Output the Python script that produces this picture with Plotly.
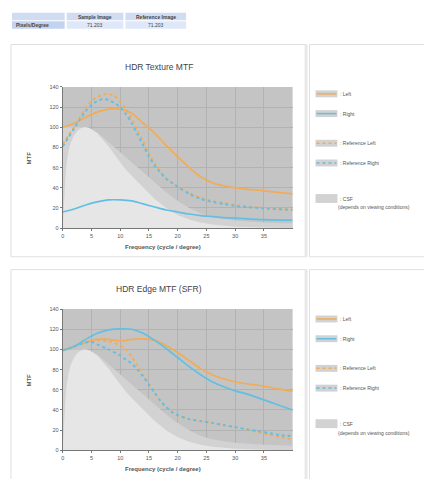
import plotly.graph_objects as go

W, H = 424, 479

# ---------------- data ----------------
table_cols = ["", "Sample Image", "Reference Image"]
table_row = ["Pixels/Degree", "71.203", "71.203"]

csf_x = [0, 0.15, 0.3, 0.5, 0.7, 1.0, 1.4, 2, 2.5, 3, 3.5, 4, 4.5, 5, 6, 7, 8, 9, 10, 11, 12, 13, 14, 15, 16, 17, 18, 19, 20, 22, 24, 26, 28, 30, 35, 40]
csf_y = [0, 20, 38, 53, 65, 76, 85, 92, 96, 98.5, 99.7, 100, 99.5, 98, 94, 88, 81, 73, 65, 58, 52, 46, 40, 34.5, 29, 24.5, 20, 16.5, 13, 8.5, 5.5, 3.5, 2.2, 1.5, 0.6, 0.2]
env_x = [0, 2, 4, 5, 6, 7, 8, 9, 10, 11, 12, 13, 14, 15, 16, 17, 18, 19, 20, 21, 22, 23, 24, 25, 26, 28, 30, 35, 40]
env_y = [100, 100, 100, 98, 95, 90, 85, 80, 75, 70, 65, 60, 55, 50, 45, 40, 35.5, 31, 27, 23.5, 20, 17, 14.5, 12.5, 11, 9, 7.5, 5.5, 4.5]

tex_x = [0, 2, 4, 6, 8, 10, 12, 14, 16, 18, 20, 22, 24, 26, 28, 30, 35, 40]
tex_left = [100, 104, 110, 115, 118, 118, 114, 104, 94, 82, 71, 60, 51, 45, 42, 40, 37, 34]
tex_right = [16, 19, 23, 26, 28, 28, 27, 24, 21, 18, 16, 14, 12.5, 11.5, 10.5, 10, 8.5, 8]
ref_x = [0, 1, 2, 3, 4, 5, 6, 7, 8, 9, 10, 11, 12, 13, 14, 15, 16, 17, 18, 19, 20, 22, 24, 26, 28, 30, 32, 35, 40]
tex_ref_left = [83, 92, 100, 110, 119, 126, 130, 132.5, 133, 131, 125, 118, 108, 97, 86, 74, 64, 56, 49, 45, 41, 35, 30, 27, 25, 23, 21.5, 20, 18.5]
tex_ref_right = [81, 90, 99, 108, 116, 122, 126, 128, 127, 124, 120, 113, 104, 93, 82, 71, 62, 55, 49, 45, 41, 34, 29, 26, 24, 22, 21, 19.5, 18]

edge_x = [0, 2, 4, 6, 8, 10, 12, 14, 16, 18, 20, 22, 24, 26, 28, 30, 32, 34, 36, 38, 40]
edge_left = [99, 103, 107, 110, 110, 108.5, 110, 110.5, 109, 104, 97, 89, 81, 75, 71, 68, 66, 64.5, 62.5, 60.5, 58.5]
edge_right = [99, 103, 110, 116, 119.5, 120.5, 120, 116, 109, 101, 92, 83, 75, 68, 63, 59, 56, 52, 48, 44, 40]
eref_x = [0, 2, 4, 5, 6, 8, 10, 11, 12, 13, 14, 15, 16, 17, 18, 19, 20, 22, 24, 26, 28, 30, 32, 34, 36, 38, 40]
edge_ref_left = [99, 103, 107, 108.5, 109, 108, 104, 100, 93, 84, 75, 66, 57, 49, 43, 38.5, 35, 31, 29, 27.5, 25, 23, 20.5, 18, 15.5, 13, 11]
edge_ref_right = [99, 103, 107, 107.5, 105, 100, 94, 90, 86, 80, 73, 65, 57, 49, 43, 38, 35, 31, 29, 27, 25, 23, 21, 19, 17, 15, 14]

x_ticks = [0, 5, 10, 15, 20, 25, 30, 35]
y_ticks = [0, 20, 40, 60, 80, 100, 120, 140]

titles = ["HDR Texture MTF", "HDR Edge MTF (SFR)"]
legend_labels = [": Left", ": Right", ": Reference Left", ": Reference Right", ": CSF"]
legend_note = "(depends on viewing conditions)"

# ---------------- styles ----------------
ORANGE = "#f2ac55"
BLUE = "#62bfe3"
BG_DARK = "#c4c4c4"
BG_MID = "#d2d2d2"
BG_LIGHT = "#e6e6e6"
GRID = "#b2b2b2"
FONT = "Liberation Sans"


def px(x):
    return x / W


def py(y):
    return 1 - y / H


def note(text, x, y, size, color="#555555", xanchor="center", angle=0):
    return dict(text=text, x=px(x), y=py(y), xref="paper", yref="paper", showarrow=False,
                xanchor=xanchor, yanchor="middle", textangle=angle,
                font=dict(family=FONT, size=size, color=color))


fig = go.Figure()

charts = [
    dict(top=85, bottom=228, panel=(42, 257),
         series=[(tex_x, tex_left, ORANGE, "solid"), (tex_x, tex_right, BLUE, "solid"),
                 (ref_x, tex_ref_left, ORANGE, "dot"), (ref_x, tex_ref_right, BLUE, "dot")]),
    dict(top=310, bottom=453, panel=(270, 490),
         series=[(edge_x, edge_left, ORANGE, "solid"), (edge_x, edge_right, BLUE, "solid"),
                 (eref_x, edge_ref_left, ORANGE, "dot"), (eref_x, edge_ref_right, BLUE, "dot")]),
]

panel_shapes = []
shapes = []
annotations = []

for i, ch in enumerate(charts):
    xa = "x" if i == 0 else "x2"
    ya = "y" if i == 0 else "y2"
    fig.add_trace(go.Scatter(x=env_x, y=env_y, mode="lines", line=dict(width=0),
                             fill="tozeroy", fillcolor=BG_MID, xaxis=xa, yaxis=ya,
                             showlegend=False, hoverinfo="skip"))
    fig.add_trace(go.Scatter(x=csf_x, y=csf_y, mode="lines", line=dict(width=0),
                             fill="tozeroy", fillcolor=BG_LIGHT, xaxis=xa, yaxis=ya,
                             showlegend=False, hoverinfo="skip"))
    for xs, ys, col, dash in ch["series"]:
        fig.add_trace(go.Scatter(x=xs, y=ys, mode="lines",
                                 line=dict(color=col, width=1.7 if dash == "solid" else 1.9,
                                           dash=dash, shape="spline", smoothing=0.8),
                                 xaxis=xa, yaxis=ya, showlegend=False))

    dom_y = [py(ch["bottom"]), py(ch["top"])]
    axis_common = dict(showline=True, linecolor="#777777", linewidth=1, ticks="outside",
                       ticklen=2, tickcolor="#777777", gridcolor=GRID, gridwidth=0.6,
                       tickfont=dict(family=FONT, size=5.5, color="#555555"), zeroline=False,
                       layer="above traces")
    xkey = "xaxis" if i == 0 else "xaxis2"
    ykey = "yaxis" if i == 0 else "yaxis2"
    fig.update_layout(**{
        xkey: dict(domain=[px(61), px(292)], range=[0, 40], tickvals=x_ticks,
                   anchor=ya, **axis_common),
        ykey: dict(domain=dom_y, range=[0, 140], tickvals=y_ticks, anchor=xa,
                   **axis_common),
    })
    p0, p1 = ch["panel"]
    panel_shapes.append(dict(type="rect", xref="paper", yref="paper", x0=px(9), x1=px(306),
                             y0=py(p1), y1=py(p0), line=dict(color="#e0e0e0", width=1),
                             fillcolor="white", layer="below"))
    panel_shapes.append(dict(type="rect", xref="paper", yref="paper", x0=px(309), x1=px(430),
                             y0=py(p1), y1=py(p0), line=dict(color="#e0e0e0", width=1),
                             fillcolor="white", layer="below"))
    panel_shapes.append(dict(type="line", xref="paper", yref="paper", x0=px(305.5),
                             x1=px(305.5), y0=py(p1), y1=py(p0),
                             line=dict(color="#e8e8e8", width=3), layer="below"))
    shapes.append(dict(type="rect", xref="paper", yref="paper", x0=px(61), x1=px(292),
                       y0=py(ch["bottom"]), y1=py(ch["top"]), fillcolor=BG_DARK,
                       line=dict(width=0), layer="below"))
    annotations.append(note(titles[i], 158, ch["top"] - 20, 8.5, "#444444"))
    annotations.append(note("<b>Frequency (cycle / degree)</b>", 162, ch["bottom"] + 19, 6))
    annotations.append(note("<b>MTF</b>", 27, (ch["top"] + ch["bottom"]) / 2, 6, angle=-90))
    base = p0
    offs = [50, 70, 100, 120, 156]
    styles = [(ORANGE, "solid"), (BLUE, "solid"), (ORANGE, "dot"), (BLUE, "dot"), (None, None)]
    for k, (lab, off, st) in enumerate(zip(legend_labels, offs, styles)):
        yy = base + off
        hh = 3.5 if st[0] else 4.5
        shapes.append(dict(type="rect", xref="paper", yref="paper", x0=px(315), x1=px(337),
                           y0=py(yy + hh), y1=py(yy - hh), fillcolor="#d2d2d2",
                           line=dict(width=0)))
        if st[0]:
            shapes.append(dict(type="line", xref="paper", yref="paper", x0=px(316), x1=px(336),
                               y0=py(yy), y1=py(yy), line=dict(color=st[0], width=1.5,
                                                              dash=st[1])))
        annotations.append(note(lab, 338, yy, 5, xanchor="left"))
    annotations.append(note(legend_note, 336, base + 165, 5, xanchor="left"))

# ---------------- table ----------------
col_x = [(10, 63), (65, 122), (124, 185)]
row_y = [(10, 17.5), (18.5, 26)]
for c, (x0, x1) in enumerate(col_x):
    shapes.append(dict(type="rect", xref="paper", yref="paper", x0=px(x0), x1=px(x1),
                       y0=py(row_y[0][1]), y1=py(row_y[0][0]), fillcolor="#cfdcf2",
                       line=dict(width=0)))
    shapes.append(dict(type="rect", xref="paper", yref="paper", x0=px(x0), x1=px(x1),
                       y0=py(row_y[1][1]), y1=py(row_y[1][0]),
                       fillcolor="#c3d3ee" if c == 0 else "#dfe8f8", line=dict(width=0)))
    if table_cols[c]:
        annotations.append(note("<b>" + table_cols[c] + "</b>", (x0 + x1) / 2,
                                sum(row_y[0]) / 2, 5, "#444444"))
    if c == 0:
        annotations.append(note("<b>" + table_row[c] + "</b>", x0 + 2, sum(row_y[1]) / 2, 5,
                                "#444444", xanchor="left"))
    else:
        annotations.append(note(table_row[c], (x0 + x1) / 2, sum(row_y[1]) / 2, 5, "#444444"))

fig.update_layout(width=W, height=H, margin=dict(l=0, r=0, t=0, b=0),
                  paper_bgcolor="white", plot_bgcolor="rgba(0,0,0,0)",
                  shapes=panel_shapes + shapes, annotations=annotations, showlegend=False)

fig.write_html("out.html", config={"displayModeBar": False},
               post_script="document.body.style.margin='0';document.body.style.overflow='hidden';")
